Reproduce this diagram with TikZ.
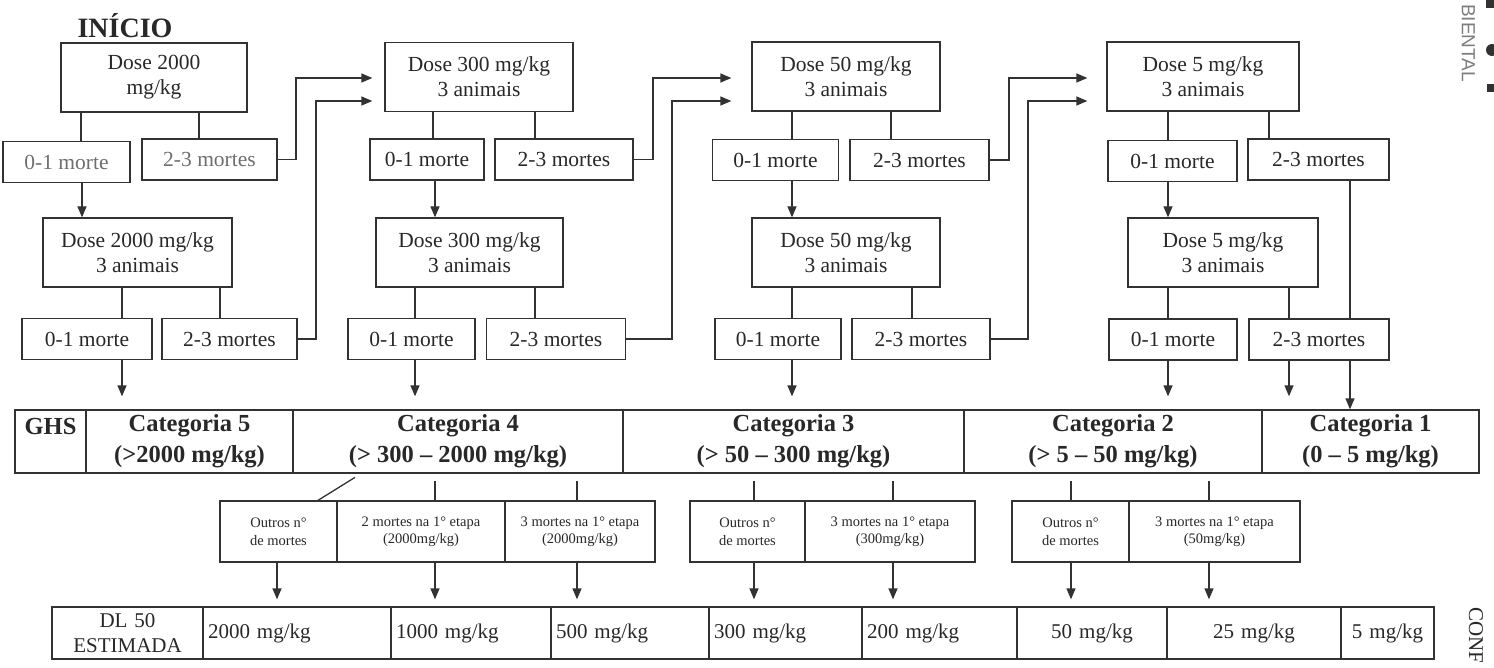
\documentclass[tikz,border=0pt]{standalone}
\usepackage{fontspec}
\setmainfont{Liberation Serif}
\newfontfamily\marginsans{Liberation Sans}
\usetikzlibrary{arrows.meta}
\definecolor{FlowInk}{RGB}{40,40,40}
\definecolor{FlowLine}{RGB}{50,50,50}
\definecolor{FlowFaint}{RGB}{110,110,110}
\definecolor{FlowScan}{RGB}{125,125,125}
\tikzset{
  flow/dose/.style={
    draw=FlowLine,
    line width=1.3pt,
    fill=white,
    align=center,
    text=FlowInk,
    inner sep=0pt,
    minimum height=69pt,
    font=\fontsize{21.5}{25}\selectfont
  },
  flow/out/.style={
    draw=FlowLine,
    line width=1.3pt,
    fill=white,
    align=center,
    text=FlowInk,
    inner sep=0pt,
    minimum height=41pt,
    font=\fontsize{21.5}{25}\selectfont
  },
  flow/ghs/.style={
    draw=FlowLine,
    line width=1.3pt,
    fill=white,
    align=center,
    text=FlowInk,
    inner sep=0pt,
    minimum height=63pt,
    font=\bfseries\fontsize{24.5}{31}\selectfont
  },
  flow/small/.style={
    draw=FlowLine,
    line width=1.3pt,
    fill=white,
    align=center,
    text=FlowInk,
    inner sep=0pt,
    minimum height=61pt,
    font=\fontsize{14.5}{17.5}\selectfont
  },
  flow/dl/.style={
    draw=FlowLine,
    line width=1.3pt,
    fill=white,
    text=FlowInk,
    inner xsep=5pt,
    inner ysep=0pt,
    minimum height=52pt,
    font=\fontsize{21}{25}\selectfont
  },
  flow/link/.style={line width=1.3pt, draw=FlowLine},
  flow/arrow/.style={-{Triangle[length=11pt,width=9pt]}, line width=1.3pt, draw=FlowLine},
  flow/title/.style={font=\bfseries\fontsize{28}{30}\selectfont, text=FlowInk},
  flow/margin/.style={rotate=-90, anchor=west, inner sep=0pt}
}

\begin{document}
\begin{tikzpicture}[x=1pt,y=-1pt]
  \fill[white] (0,0) rectangle (1494,668);
  \useasboundingbox (0,0) rectangle (1494,668);

  % first branch, 2000 mg/kg
  \node[flow/title] (inicio) at (125,26) {INÍCIO};
  \node[flow/dose,minimum width=186pt] (a1) at (154,77.5) {Dose 2000\\mg/kg};
  \node[flow/out,minimum width=127pt,text=FlowFaint] (a1low) at (66.5,162) {0-1 morte};
  \node[flow/out,minimum width=135pt,text=FlowFaint] (a1high) at (209.5,159.5) {2-3 mortes};
  \node[flow/dose,minimum width=189pt] (a2) at (137.5,252.5) {Dose 2000 mg/kg\\3 animais};
  \node[flow/out,minimum width=130pt] (a2low) at (87,339) {0-1 morte};
  \node[flow/out,minimum width=135pt] (a2high) at (229.5,339) {2-3 mortes};

  % 300 mg/kg
  \node[flow/dose,minimum width=188pt] (b1) at (479,77) {Dose 300 mg/kg\\3 animais};
  \node[flow/out,minimum width=114pt] (b1low) at (427,159.5) {0-1 morte};
  \node[flow/out,minimum width=138pt] (b1high) at (564,159.5) {2-3 mortes};
  \node[flow/dose,minimum width=187pt] (b2) at (469.5,252.5) {Dose 300 mg/kg\\3 animais};
  \node[flow/out,minimum width=127pt] (b2low) at (411.5,339) {0-1 morte};
  \node[flow/out,minimum width=139pt] (b2high) at (556,339) {2-3 mortes};

  % 50 mg/kg
  \node[flow/dose,minimum width=188pt] (c1) at (846,76.5) {Dose 50 mg/kg\\3 animais};
  \node[flow/out,minimum width=126pt] (c1low) at (775.5,160) {0-1 morte};
  \node[flow/out,minimum width=139pt] (c1high) at (919.5,160) {2-3 mortes};
  \node[flow/dose,minimum width=188pt] (c2) at (846,252.5) {Dose 50 mg/kg\\3 animais};
  \node[flow/out,minimum width=126pt] (c2low) at (778,339) {0-1 morte};
  \node[flow/out,minimum width=138pt] (c2high) at (921,339) {2-3 mortes};

  % 5 mg/kg
  \node[flow/dose,minimum width=192pt] (d1) at (1203,76.5) {Dose 5 mg/kg\\3 animais};
  \node[flow/out,minimum width=129pt] (d1low) at (1172.5,161) {0-1 morte};
  \node[flow/out,minimum width=141pt] (d1high) at (1318.5,159.5) {2-3 mortes};
  \node[flow/dose,minimum width=190pt] (d2) at (1223,252.5) {Dose 5 mg/kg\\3 animais};
  \node[flow/out,minimum width=128pt] (d2low) at (1173,339.5) {0-1 morte};
  \node[flow/out,minimum width=140pt] (d2high) at (1319,339.5) {2-3 mortes};

  % GHS categories
  \node[flow/ghs,minimum width=71pt] (ghs) at (50.5,441.5) {GHS\\\mbox{}};
  \node[flow/ghs,minimum width=207pt] (cat5) at (189.5,441.5) {Categoria 5\\(>2000 mg/kg)};
  \node[flow/ghs,minimum width=330pt] (cat4) at (458,441.5) {Categoria 4\\(> 300 – 2000 mg/kg)};
  \node[flow/ghs,minimum width=341pt] (cat3) at (793.5,441.5) {Categoria 3\\(> 50 – 300 mg/kg)};
  \node[flow/ghs,minimum width=298pt] (cat2) at (1113,441.5) {Categoria 2\\(> 5 – 50 mg/kg)};
  \node[flow/ghs,minimum width=217pt] (cat1) at (1370.5,441.5) {Categoria 1\\(0 – 5 mg/kg)};

  % death counts
  \node[flow/small,minimum width=117pt] (s1) at (278.5,531.5) {Outros n°\\de mortes};
  \node[flow/small,minimum width=168pt] (s2) at (421,531.5) {2 mortes na 1° etapa\\(2000mg/kg)};
  \node[flow/small,minimum width=150pt] (s3) at (580,531.5) {3 mortes na 1° etapa\\(2000mg/kg)};
  \node[flow/small,minimum width=115pt] (s4) at (747.5,531.5) {Outros n°\\de mortes};
  \node[flow/small,minimum width=170pt] (s5) at (890,531.5) {3 mortes na 1° etapa\\(300mg/kg)};
  \node[flow/small,minimum width=117pt] (s6) at (1070.5,531.5) {Outros n°\\de mortes};
  \node[flow/small,minimum width=171pt] (s7) at (1214.5,531.5) {3 mortes na 1° etapa\\(50mg/kg)};

  % estimated DL50
  \node[flow/dl,text width=141pt,align=center] (dlhead) at (127.5,633) {DL 50\\ESTIMADA};
  \node[flow/dl,text width=178pt,align=left] (dl2000) at (297,633) {2000 mg/kg};
  \node[flow/dl,text width=150pt,align=left] (dl1000) at (471,633) {1000 mg/kg};
  \node[flow/dl,text width=148pt,align=left] (dl500) at (630,633) {500 mg/kg};
  \node[flow/dl,text width=143pt,align=left] (dl300) at (785.5,633) {300 mg/kg};
  \node[flow/dl,text width=145pt,align=left] (dl200) at (939.5,633) {200 mg/kg};
  \node[flow/dl,text width=140pt,align=center] (dl50) at (1092,633) {50 mg/kg};
  \node[flow/dl,text width=164pt,align=center] (dl25) at (1254,633) {25 mg/kg};
  \node[flow/dl,text width=83pt,align=center] (dl5) at (1387.5,633) {5 mg/kg};

  % dose -> outcome
  \draw[flow/link] (a1.south -| 81,0) -- (a1low.north -| 81,0);
  \draw[flow/link] (a1.south -| 199,0) -- (a1high.north -| 199,0);
  \draw[flow/link] (a2.south -| 122,0) -- (a2low.north -| 122,0);
  \draw[flow/link] (a2.south -| 220,0) -- (a2high.north -| 220,0);
  \draw[flow/link] (b1.south -| 433,0) -- (b1low.north -| 433,0);
  \draw[flow/link] (b1.south -| 535,0) -- (b1high.north -| 535,0);
  \draw[flow/link] (b2.south -| 415,0) -- (b2low.north -| 415,0);
  \draw[flow/link] (b2.south -| 535,0) -- (b2high.north -| 535,0);
  \draw[flow/link] (c1.south -| 792,0) -- (c1low.north -| 792,0);
  \draw[flow/link] (c1.south -| 891,0) -- (c1high.north -| 891,0);
  \draw[flow/link] (c2.south -| 792,0) -- (c2low.north -| 792,0);
  \draw[flow/link] (c2.south -| 912,0) -- (c2high.north -| 912,0);
  \draw[flow/link] (d1.south -| 1168,0) -- (d1low.north -| 1168,0);
  \draw[flow/link] (d1.south -| 1269,0) -- (d1high.north -| 1269,0);
  \draw[flow/link] (d2.south -| 1168,0) -- (d2low.north -| 1168,0);
  \draw[flow/link] (d2.south -| 1289,0) -- (d2high.north -| 1289,0);

  % 0-1 morte -> repeat the dose
  \draw[flow/arrow] (a1low.south -| 82,0) -- (a2.north -| 82,0);
  \draw[flow/arrow] (b1low.south -| 435,0) -- (b2.north -| 435,0);
  \draw[flow/arrow] (c1low.south -| 792,0) -- (c2.north -| 792,0);
  \draw[flow/arrow] (d1low.south -| 1168,0) -- (d2.north -| 1168,0);

  % 2-3 mortes -> next lower dose
  \draw[flow/arrow,shorten >=12pt] (a1high.east) -| (296,78) -- (b1.west |- 0,78);
  \draw[flow/arrow,shorten >=12pt] (a2high.east) -| (316,101) -- (b1.west |- 0,101);
  \draw[flow/arrow,shorten >=20pt] (b1high.east) -| (653,78) -- (c1.west |- 0,78);
  \draw[flow/arrow,shorten >=20pt] (b2high.east) -| (672,101) -- (c1.west |- 0,101);
  \draw[flow/arrow,shorten >=19pt] (c1high.east) -| (1009,78) -- (d1.west |- 0,78);
  \draw[flow/arrow,shorten >=19pt] (c2high.east) -| (1028,101) -- (d1.west |- 0,101);

  % outcome -> GHS category
  \draw[flow/arrow,shorten >=13pt] (a2low.south -| 122,0) -- (cat5.north -| 122,0);
  \draw[flow/arrow,shorten >=13pt] (b2low.south -| 415,0) -- (cat4.north -| 415,0);
  \draw[flow/arrow,shorten >=13pt] (c2low.south -| 792,0) -- (cat3.north -| 792,0);
  \draw[flow/arrow,shorten >=13pt] (d2low.south -| 1168,0) -- (cat2.north -| 1168,0);
  \draw[flow/arrow,shorten >=13pt] (d2high.south -| 1289,0) -- (cat2.north -| 1289,0);
  \draw[flow/link] (d1high.south -| 1350,0) -- (d2high.north -| 1350,0);
  \draw[flow/arrow] (d2high.south -| 1350,0) -- (cat1.north -| 1350,0);

  % category -> death counts
  \draw[flow/link,shorten <=7pt] (cat4.south -| 361,0) -- (s1.north -| 318,0);
  \draw[flow/link,shorten <=7pt] (cat4.south -| 435,0) -- (s2.north -| 435,0);
  \draw[flow/link,shorten <=7pt] (cat4.south -| 577,0) -- (s3.north -| 577,0);
  \draw[flow/link,shorten <=7pt] (cat3.south -| 754,0) -- (s4.north -| 754,0);
  \draw[flow/link,shorten <=7pt] (cat3.south -| 893,0) -- (s5.north -| 893,0);
  \draw[flow/link,shorten <=7pt] (cat2.south -| 1071,0) -- (s6.north -| 1071,0);
  \draw[flow/link,shorten <=7pt] (cat2.south -| 1209,0) -- (s7.north -| 1209,0);

  % death counts -> DL50
  \draw[flow/arrow,shorten >=7pt] (s1.south -| 277,0) -- (dl2000.north -| 277,0);
  \draw[flow/arrow,shorten >=7pt] (s2.south -| 435,0) -- (dl1000.north -| 435,0);
  \draw[flow/arrow,shorten >=7pt] (s3.south -| 577,0) -- (dl500.north -| 577,0);
  \draw[flow/arrow,shorten >=7pt] (s4.south -| 754,0) -- (dl300.north -| 754,0);
  \draw[flow/arrow,shorten >=7pt] (s5.south -| 893,0) -- (dl200.north -| 893,0);
  \draw[flow/arrow,shorten >=7pt] (s6.south -| 1071,0) -- (dl50.north -| 1071,0);
  \draw[flow/arrow,shorten >=7pt] (s7.south -| 1209,0) -- (dl25.north -| 1209,0);

  % page margin of the scan
  \node[flow/margin,font=\marginsans\fontsize{19}{19}\selectfont,text=FlowScan] (bienmark) at (1468.5,4) {BIENTAL};
  \node[flow/margin,font=\fontsize{21}{21}\selectfont,text=FlowInk] (confmark) at (1476,607) {CONF};
  \fill[FlowLine] (1486,0) rectangle (1494,8);
  \fill[FlowLine] (1492,50) circle[radius=6pt];
  \fill[FlowLine] (1487,84) rectangle (1494,92);
\end{tikzpicture}
\end{document}
